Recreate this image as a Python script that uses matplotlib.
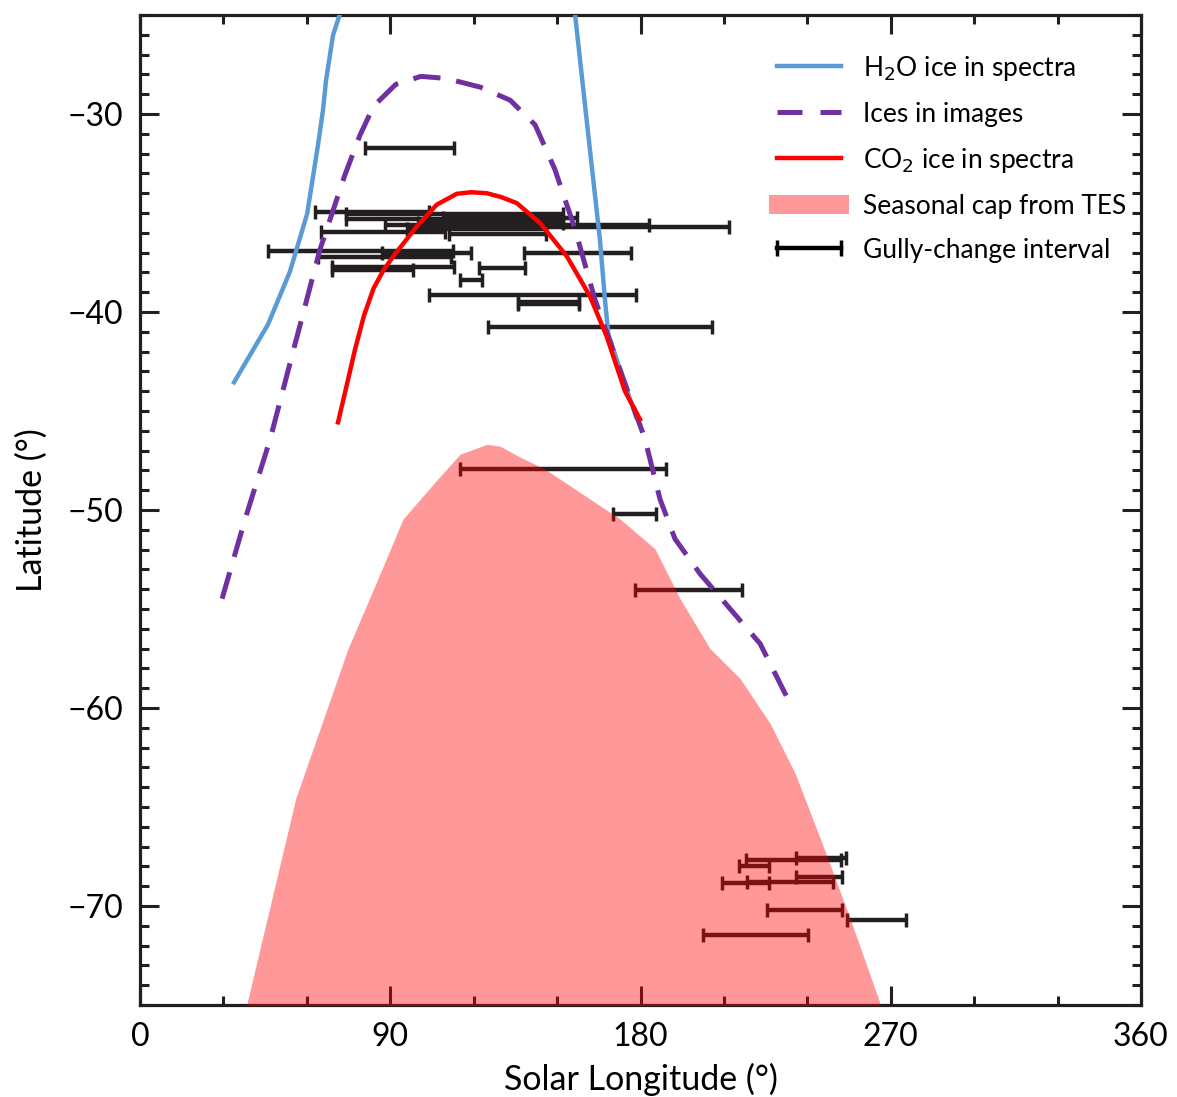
import matplotlib
matplotlib.use("Agg")
import matplotlib.pyplot as plt
from matplotlib.patches import Patch
from matplotlib.lines import Line2D
from matplotlib.ticker import MultipleLocator
import numpy as np

plt.rcParams['font.family'] = ['Lato', 'DejaVu Sans']

# H2O ice in spectra (two branches)
h2o_left_ls = [33.8, 46.0, 53.9, 60.1, 64.0, 65.8, 66.9, 69.4, 72.0]
h2o_left_lat = [-43.55, -40.63, -37.96, -35.04, -31.56, -29.8, -28.29, -26.02, -24.9]
h2o_right_ls = [156.4, 161.8, 165.4, 167.2, 168.4, 170.5, 172.6, 178.4]
h2o_right_lat = [-24.9, -31.8, -36.35, -39.37, -41.1, -42.0, -42.9, -45.3]

# Ices in images
img_ls = [29.5, 37.8, 46.8, 55.7, 64.7, 73.7, 79.0, 84.0, 92.0, 101.0, 110.0, 122.3, 133.1,
          142.1, 149.2, 156.4, 163.6, 172.6, 181.6, 187.0, 192.4, 201.4, 212.2, 223.0, 233.8]
img_lat = [-54.48, -50.45, -46.42, -41.64, -36.85, -33.07, -31.1, -29.6, -28.5, -28.1, -28.2,
           -28.64, -29.3, -30.55, -32.8, -35.8, -39.37, -42.9, -46.42, -49.45, -51.46, -53.22,
           -54.99, -56.75, -59.77]

# CO2 ice in spectra
co2_ls = [71.2, 74.0, 77.3, 80.5, 84.0, 87.5, 91.0, 99.5, 106.7, 113.9, 119.0, 124.7, 130.0,
          135.5, 143.9, 153.5, 161.8, 167.8, 174.4, 179.8]
co2_lat = [-45.57, -43.9, -41.9, -40.2, -38.8, -37.9, -37.2, -35.68, -34.58, -34.03, -33.95,
           -34.0, -34.2, -34.5, -35.51, -37.19, -39.2, -41.22, -44.0, -45.42]

# Seasonal cap from TES (boundary)
tes_ls = [38.5, 56.0, 74.8, 86.3, 94.6, 106.1, 115.1, 124.8, 129.5, 136.7, 145.6, 156.4,
          172.6, 185.2, 194.2, 205.0, 215.8, 226.6, 235.6, 245.3, 255.3, 266.1]
tes_lat = [-74.9, -64.56, -57.0, -53.22, -50.45, -48.59, -47.18, -46.68, -46.78, -47.33,
           -47.93, -48.94, -50.45, -51.96, -54.48, -57.0, -58.51, -60.78, -63.3, -66.83,
           -70.6, -74.9]

# Gully-change intervals
gully_start = [81, 63, 74, 109, 119, 88, 96, 146, 65, 111, 74, 100, 46, 87, 64, 138, 69, 69,
               122, 115, 104, 136, 136, 125,
               115, 170, 178,
               218, 236, 215.5, 236, 218.4, 209.2, 225.6, 254.1, 202.6]
gully_end = [113, 104, 152, 157, 152, 183, 146, 212, 109.5, 146, 150, 152, 112.5, 119, 112,
             176.5, 98, 113, 138.5, 123, 178.4, 158, 158, 205.6,
             189.2, 185.6, 216.5,
             252, 254, 226.3, 252.3, 249.3, 226.3, 252.3, 275.5, 240.3]
gully_lat = [-31.7, -34.95, -35.05, -35.25, -35.4, -35.6, -35.8, -35.7, -35.96, -36.05,
             -35.3, -35.5, -36.94, -37.0, -37.2, -37.0, -37.86, -37.75, -37.8, -38.4, -39.12,
             -39.5, -39.62, -40.75,
             -47.93, -50.2, -54.06,
             -67.7, -67.6, -68.0, -68.55, -68.8, -68.85, -70.19, -70.69, -71.45]

blue = '#5B9BD5'
purple = '#7030A0'
red = '#FF0000'
dark = '#231F20'

fig = plt.figure(figsize=(11.77, 10.97), dpi=100)
ax = fig.add_axes([0.119, 0.0839, 0.8504, 0.9024])

gs = np.array(gully_start)
ge = np.array(gully_end)
ax.errorbar((gs + ge) / 2, gully_lat, xerr=(ge - gs) / 2, fmt='none', ecolor=dark,
            elinewidth=3.2, capsize=5, capthick=2.5, zorder=2)

ax.fill_between(tes_ls, tes_lat, -80, color=red, alpha=0.4, linewidth=0, zorder=3)

ax.plot(h2o_left_ls, h2o_left_lat, color=blue, lw=3.2, zorder=4)
ax.plot(h2o_right_ls, h2o_right_lat, color=blue, lw=3.2, zorder=4)
ax.plot(img_ls, img_lat, color=purple, lw=3.6, dashes=[5.5, 3.2], zorder=4)
ax.plot(co2_ls, co2_lat, color=red, lw=3.2, zorder=5)

ax.set_xlim(0, 360)
ax.set_ylim(-75, -25)
ax.xaxis.set_major_locator(MultipleLocator(90))
ax.xaxis.set_minor_locator(MultipleLocator(30))
ax.yaxis.set_major_locator(MultipleLocator(10))
ax.yaxis.set_minor_locator(MultipleLocator(1))
ax.tick_params(which='both', direction='in', top=True, right=True, width=2.2,
               colors=dark, labelcolor='black')
ax.tick_params(which='major', length=13.5, labelsize=23, pad=12)
ax.tick_params(which='minor', length=6.5)
for s in ax.spines.values():
    s.set_linewidth(2.3)
    s.set_color(dark)

ax.set_xlabel('Solar Longitude (°)', fontsize=24.5, labelpad=8)
ax.set_ylabel('Latitude (°)', fontsize=24.5, labelpad=14)

handles = [
    Line2D([], [], color=blue, lw=3.2),
    Line2D([], [], color=purple, lw=3.6, dashes=[5, 3.6]),
    Line2D([], [], color=red, lw=3.2),
    Patch(facecolor=red, alpha=0.4, edgecolor='none'),
    Line2D([], [], color='black', lw=3.2, marker='|', markersize=12, markeredgewidth=2.5),
]
labels = ['H$_2$O ice in spectra', 'Ices in images', 'CO$_2$ ice in spectra',
          'Seasonal cap from TES', 'Gully-change interval']
leg = ax.legend(handles, labels, loc='upper left', bbox_to_anchor=(0.605, 0.985),
                frameon=False, fontsize=19, handlelength=3.0, handletextpad=0.55,
                labelspacing=0.72, numpoints=2)

fig.savefig('out.png', dpi=100)
